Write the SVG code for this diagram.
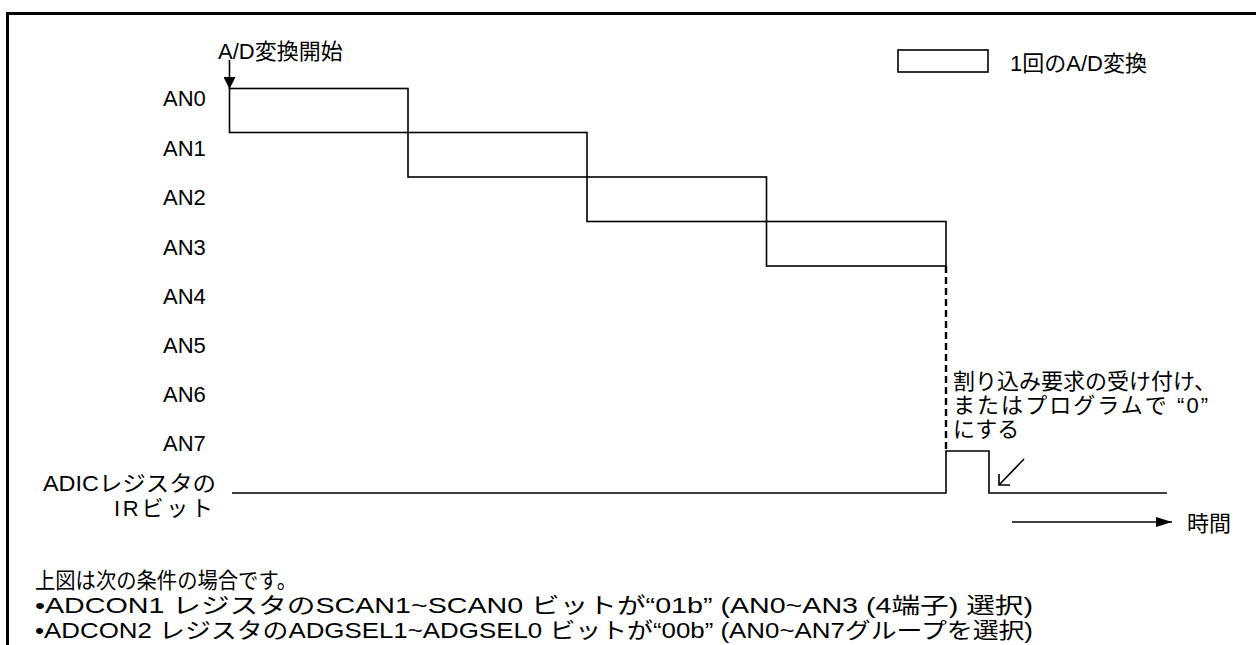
<svg xmlns="http://www.w3.org/2000/svg" width="1256" height="645" viewBox="0 0 1256 645">
<defs>
<style>
text{font-family:"Liberation Sans","Noto Sans CJK JP",sans-serif;font-size:22px;fill:#000}
.box{fill:#fff;stroke:#000;stroke-width:1.6}
.ln{fill:none;stroke:#000;stroke-width:1.6}
.frame{fill:none;stroke:#000;stroke-width:3}
</style>
<marker id="tri" viewBox="0 0 12 12" refX="12" refY="6" markerWidth="12" markerHeight="12" markerUnits="userSpaceOnUse" orient="auto">
<path d="M0,0 L12,6 L0,12 Z" fill="#000"/>
</marker>
<marker id="tri2" viewBox="0 0 16 10" refX="16" refY="5" markerWidth="16" markerHeight="10" markerUnits="userSpaceOnUse" orient="auto">
<path d="M0,0 L16,5 L0,10 Z" fill="#000"/>
</marker>
</defs>
<rect width="1256" height="645" fill="#fff"/>
<g id="frame">
<path class="frame" d="M7.5,645 V13.5 H1256"/>
</g>
<g id="labels">
<text x="163" y="106">AN0</text>
<text x="163" y="156">AN1</text>
<text x="163" y="205">AN2</text>
<text x="163" y="255">AN3</text>
<text x="163" y="304">AN4</text>
<text x="163" y="353">AN5</text>
<text x="163" y="402">AN6</text>
<text x="163" y="451">AN7</text>
<text x="43" y="491" textLength="173" lengthAdjust="spacingAndGlyphs">ADICレジスタの</text>
<text x="114" y="516" textLength="99" lengthAdjust="spacing">IRビット</text>
</g>
<g id="start-label"><text x="218" y="59">A/D変換開始</text></g>
<g id="legend">
<rect class="box" x="898" y="50" width="90" height="22"/>
<text x="1010" y="71">1回のA/D変換</text>
</g>
<g id="conv-an0"><rect class="box" x="229.5" y="88.5" width="178.5" height="44"/></g>
<g id="conv-an1"><rect class="box" x="408" y="132.5" width="179" height="44.5"/></g>
<g id="conv-an2"><rect class="box" x="587" y="177" width="179.5" height="44.5"/></g>
<g id="conv-an3"><rect class="box" x="766.5" y="221.5" width="179.5" height="44.5"/></g>
<g id="ir-signal">
<path class="ln" d="M232,493 H946 V451 H989 V493 H1167"/>
</g>
<g id="note">
<text x="953" y="389">割り込み要求の受け付け、</text>
<text x="953" y="413" textLength="255" lengthAdjust="spacing">またはプログラムで “0”</text>
<text x="953" y="437">にする</text>
</g>
<g id="time-label"><text x="1187" y="531">時間</text></g>
<g id="conditions">
<text x="35" y="588" textLength="262" lengthAdjust="spacingAndGlyphs">上図は次の条件の場合です。</text>
<text x="35" y="613" textLength="998" lengthAdjust="spacingAndGlyphs">•ADCON1 レジスタのSCAN1~SCAN0 ビットが“01b” (AN0~AN3 (4端子) 選択)</text>
<text x="35" y="638" textLength="998" lengthAdjust="spacingAndGlyphs">•ADCON2 レジスタのADGSEL1~ADGSEL0 ビットが“00b” (AN0~AN7グループを選択)</text>
</g>
<g id="connectors">
<line class="ln" x1="229.5" y1="60" x2="229.5" y2="89" marker-end="url(#tri)"/>
<line x1="946" y1="266" x2="946" y2="451" stroke="#000" stroke-width="2.4" stroke-dasharray="7,4"/>
<path class="ln" d="M1024,459 L999,485 M999,474 V485 H1010"/>
<line class="ln" x1="1012" y1="522" x2="1172" y2="522" marker-end="url(#tri2)"/>
</g>
</svg>
